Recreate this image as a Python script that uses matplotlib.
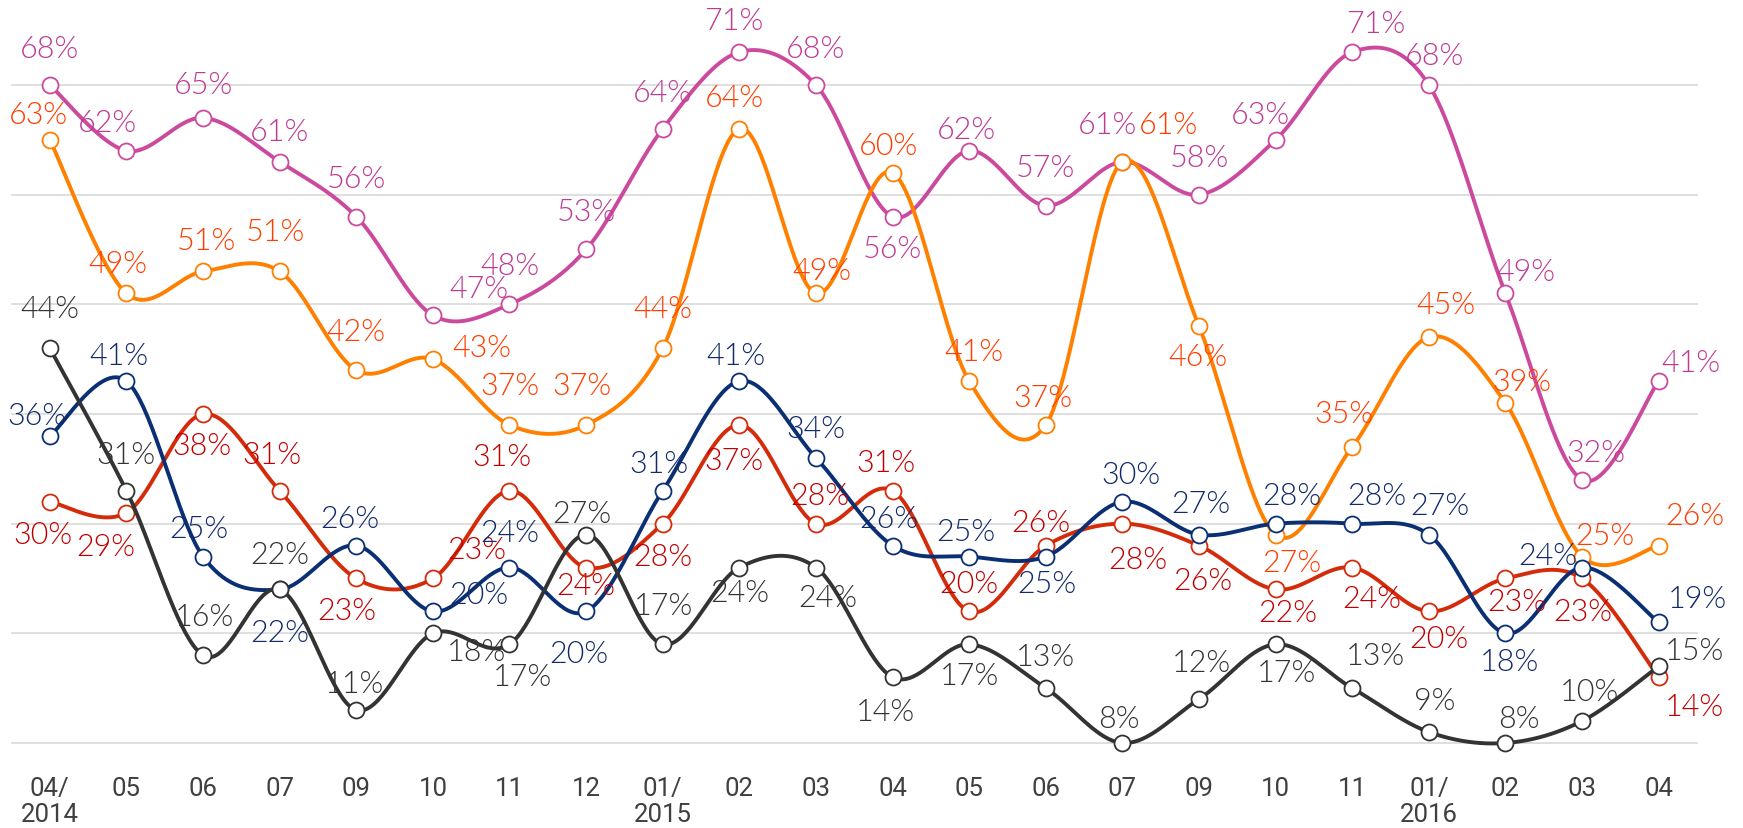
import numpy as np
import matplotlib
matplotlib.use("Agg")
import matplotlib.pyplot as plt

# ---------------- data ----------------
categories = ["04/\n2014", "05", "06", "07", "09", "10", "11", "12", "01/\n2015", "02", "03",
              "04", "05", "06", "07", "09", "10", "11", "01/\n2016", "02", "03", "04"]

magenta = [68, 62, 65, 61, 56, 47, 48, 53, 64, 71, 68, 56, 62, 57, 61, 58, 63, 71, 68, 49, 32, 41]
orange = [63, 49, 51, 51, 42, 43, 37, 37, 44, 64, 49, 60, 41, 37, 61, 46, 27, 35, 45, 39, 25, 26]
navy = [36, 41, 25, 22, 26, 20, 24, 20, 31, 41, 34, 26, 25, 25, 30, 27, 28, 28, 27, 18, 24, 19]
red = [30, 29, 38, 31, 23, 23, 31, 24, 28, 37, 28, 31, 20, 26, 28, 26, 22, 24, 20, 23, 23, 14]
black = [44, 31, 16, 22, 11, 18, 17, 27, 17, 24, 24, 14, 17, 13, 8, 12, 17, 13, 9, 8, 10, 15]

# ---------------- label placement (offsets: categories, percentage points) ----------------
off_magenta = [(0, 3.3), (-0.25, 2.6), (0, 3.0), (0, 2.8), (0, 3.5), (0.6, 2.4), (0, 3.5), (0, 3.5),
               (0, 3.3), (-0.07, 2.9), (0, 3.3), (0, -2.9), (-0.04, 1.9), (0, 3.5), (-0.19, 3.4),
               (0, 3.4), (-0.2, 2.3), (0.31, 2.6), (0.07, 2.7), (0.27, 2.0), (0.18, 2.5), (0.42, 1.7)]
off_orange = [(-0.15, 2.3), (-0.11, 2.7), (0.05, 2.8), (-0.06, 3.6), (0, 3.5), (0.64, 1.1), (0, 3.6),
              (-0.05, 3.6), (0, 3.6), (-0.07, 2.9), (0.08, 2.1), (-0.05, 2.5), (0.06, 2.7), (-0.04, 2.5),
              (0.6, 3.4), (-0.02, -2.8), (0.21, -2.5), (-0.11, 3.0), (0.22, 3.0), (0.22, 2.0),
              (0.3, 1.9), (0.47, 2.75)]
off_navy = [(-0.17, 1.9), (-0.1, 2.3), (-0.05, 2.6), (0, -3.9), (-0.09, 2.5), (0.6, 1.5), (0, 3.2),
            (-0.1, -3.85), (-0.05, 2.5), (-0.05, 2.3), (0, 2.7), (-0.05, 2.5), (-0.04, 2.3), (0.02, -2.5),
            (0.11, 2.5), (0.03, 2.8), (0.21, 2.6), (0.32, 2.6), (0.15, 2.7), (0.05, -2.6), (-0.45, 1.1),
            (0.5, 2.2)]
off_red = [(-0.09, -3.0), (-0.27, -3.1), (-0.02, -2.9), (-0.1, 3.3), (-0.12, -2.9), (0.57, 2.6),
           (-0.1, 3.1), (0, -1.6), (0, -3.0), (-0.07, -3.2), (0.05, 2.6), (-0.09, 2.6), (-0.01, 2.5),
           (-0.06, 2.1), (0.2, -3.3), (0.05, -3.2), (0.16, -2.1), (0.26, -2.8), (0.13, -2.5),
           (0.15, -2.1), (0.01, -3.0), (0.47, -2.7)]
off_black = [(0, 3.6), (0, 3.3), (0.02, 3.5), (0, 3.2), (-0.02, 2.4), (0.57, -1.7), (0.17, -2.9),
             (-0.05, 1.9), (0.01, 3.5), (0, -2.3), (0.16, -2.75), (-0.1, -3.1), (0.01, -2.85),
             (-0.01, 2.9), (-0.04, 2.2), (0.03, 3.3), (0.14, -2.6), (0.3, 3.0), (0.07, 2.9),
             (0.18, 2.2), (0.09, 2.7), (0.47, 1.4)]

# series: values, offsets, line colour, label colour (draw order back -> front)
series = [
    (magenta, off_magenta, "#CC4A9E", "#BE3A94"),
    (orange, off_orange, "#FF8000", "#FF3D00"),
    (red, off_red, "#D42B0B", "#C00000"),
    (navy, off_navy, "#0A2F73", "#112A6B"),
    (black, off_black, "#333333", "#333333"),
]


def smooth(x, y, n=40):
    pts = np.column_stack([x, y]).astype(float)
    P = np.vstack([pts[0], pts, pts[-1]])
    out = []
    t = np.linspace(0, 1, n)[:, None]
    for i in range(1, len(P) - 2):
        p0, p1, p2, p3 = P[i - 1], P[i], P[i + 1], P[i + 2]
        c1 = p1 + (p2 - p0) / 6.0
        c2 = p2 - (p3 - p1) / 6.0
        seg = (1 - t) ** 3 * p1 + 3 * (1 - t) ** 2 * t * c1 + 3 * (1 - t) * t ** 2 * c2 + t ** 3 * p2
        out.append(seg if i == 1 else seg[1:])
    return np.vstack(out)


W, H = 1743, 829
fig = plt.figure(figsize=(W / 100, H / 100), dpi=100)
ax = fig.add_axes([11.5 / W, (H - 744) / H, (1697 - 11.5) / W, 744 / H])

x = np.arange(len(categories))
ax.set_xlim(-0.5, len(categories) - 0.5)
ax.set_ylim(8, 75.84)

for g in range(8, 70, 10):
    ax.axhline(g, color="#D9D9D9", lw=1.2, zorder=0, clip_on=False)

label_font = ["Lato", "DejaVu Sans"]
for k, (vals, offs, lc, tc) in enumerate(series):
    cur = smooth(x, vals)
    ax.plot(cur[:, 0], cur[:, 1], color=lc, lw=2.8, zorder=2 + k * 0.1, solid_capstyle="round",
            clip_on=False)
    ax.plot(x, vals, "o", mfc="white", mec=lc, ms=11.5, mew=1.3, zorder=2.05 + k * 0.1, clip_on=False)
    for i, v in enumerate(vals):
        dx, dy = offs[i]
        ax.text(i + dx, v + dy, f"{v}%", ha="center", va="center", color=tc, fontsize=22,
                family=label_font, fontweight=300, zorder=10, clip_on=False)

for s in ax.spines.values():
    s.set_visible(False)
ax.set_yticks([])
ax.set_xticks(x)
ax.set_xticklabels(categories, family=["Roboto", "DejaVu Sans"], fontsize=18.5,
                   color="#404040", linespacing=1.1)
ax.tick_params(axis="x", length=0, pad=24)

fig.savefig("out.png", dpi=100)
